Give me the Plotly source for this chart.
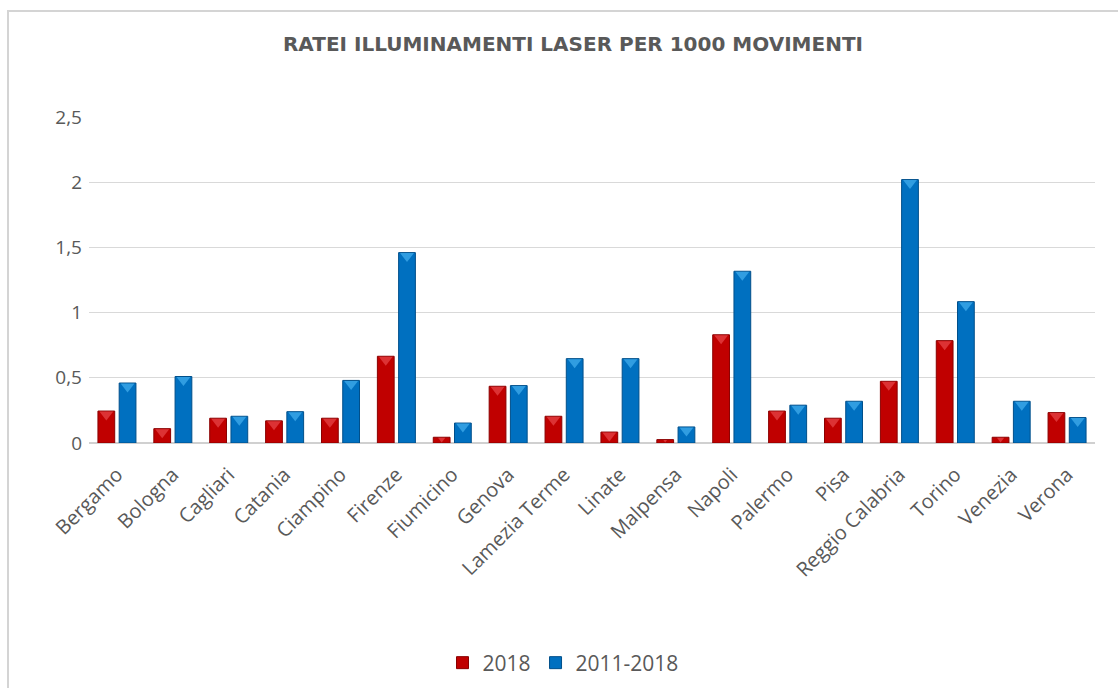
import plotly.graph_objects as go

# Airports and rates of laser illuminations per 1000 movements
airports = ["Bergamo", "Bologna", "Cagliari", "Catania", "Ciampino", "Firenze",
            "Fiumicino", "Genova", "Lamezia Terme", "Linate", "Malpensa", "Napoli",
            "Palermo", "Pisa", "Reggio Calabria", "Torino", "Venezia", "Verona"]
rate_2018 = [0.245, 0.11, 0.19, 0.17, 0.19, 0.665, 0.044, 0.435, 0.205, 0.084,
             0.026, 0.83, 0.245, 0.19, 0.473, 0.785, 0.044, 0.233]
rate_2011_2018 = [0.46, 0.51, 0.205, 0.24, 0.48, 1.46, 0.153, 0.44, 0.647, 0.647,
                  0.123, 1.317, 0.29, 0.32, 2.02, 1.084, 0.32, 0.195]
y_ticks = [0, 0.5, 1, 1.5, 2, 2.5]

W, H = 1118, 688
M_L, M_R, M_T, M_B = 89, 23, 117, 245
plot_h = H - M_T - M_B
px_per_unit = plot_h / 2.5

BAR_W = 0.30
OFFSET = 0.19
GREY = "#595959"
FONT = "Open Sans"

series = [
    ("2018", rate_2018, -OFFSET, "#C00000", "#8A0000", "#E8474A"),
    ("2011-2018", rate_2011_2018, OFFSET, "#0070C0", "#004F8A", "#45B0F0"),
]

fig = go.Figure()
idx = list(range(len(airports)))
for name, vals, off, body, edge, hi in series:
    fig.add_trace(go.Bar(
        x=[i + off for i in idx], y=vals, width=BAR_W, name=name,
        marker=dict(color=body, line=dict(color=edge, width=1)),
    ))

# light bevel triangle on the top of each bar
for name, vals, off, body, edge, hi in series:
    sizes, ys = [], []
    for v in vals:
        bar_px = v * px_per_unit
        s = min(12.0, max(2.0, (bar_px - 1) / 0.75))
        r = s / 2
        sizes.append(s)
        ys.append(v - (r / 2 + 0.5) / px_per_unit)
    fig.add_trace(go.Scatter(
        x=[i + off for i in idx], y=ys, mode="markers", showlegend=False,
        hoverinfo="skip",
        marker=dict(symbol="triangle-down", size=sizes, color=hi,
                    line=dict(width=0)),
    ))

# outer chart frame
fig.add_shape(type="rect", xref="paper", yref="paper",
              x0=(8 - M_L) / (W - M_L - M_R), x1=(1130 - M_L) / (W - M_L - M_R),
              y0=(H - M_B - 700) / plot_h, y1=(H - M_B - 11) / plot_h,
              line=dict(color="#D4D4D4", width=2), fillcolor="rgba(0,0,0,0)",
              layer="below")

fig.update_layout(
    width=W, height=H,
    margin=dict(l=M_L, r=M_R, t=M_T, b=M_B, autoexpand=False),
    paper_bgcolor="white", plot_bgcolor="white",
    separators=",.",
    barmode="overlay",
    title=dict(text="<b>RATEI ILLUMINAMENTI LASER PER 1000 MOVIMENTI</b>",
               x=573 / W, xanchor="center", y=1 - 44 / H, yanchor="middle",
               font=dict(family="DejaVu Sans", size=20, color=GREY)),
    xaxis=dict(range=[-0.5, len(airports) - 0.5], tickmode="array",
               tickvals=idx, ticktext=airports, tickangle=-45,
               showgrid=False, zeroline=False, showline=False, ticks="",
               ticklabelstandoff=15,
               tickfont=dict(family=FONT, size=20, color=GREY)),
    yaxis=dict(range=[0, 2.5], tickvals=y_ticks, showgrid=True,
               gridcolor="#D9D9D9", gridwidth=1, zeroline=True,
               zerolinecolor="#D0D0D0", zerolinewidth=1.5, showline=False,
               ticks="", ticklabelstandoff=6,
               tickfont=dict(family=FONT, size=19, color=GREY)),
    legend=dict(orientation="h", x=(563 - M_L) / (W - M_L - M_R), xanchor="center",
                y=(H - M_B - 663) / plot_h, yanchor="middle",
                font=dict(family=FONT, size=21, color=GREY),
                itemwidth=30, tracegroupgap=0),
    showlegend=True,
)

fig.write_html("out.html")
